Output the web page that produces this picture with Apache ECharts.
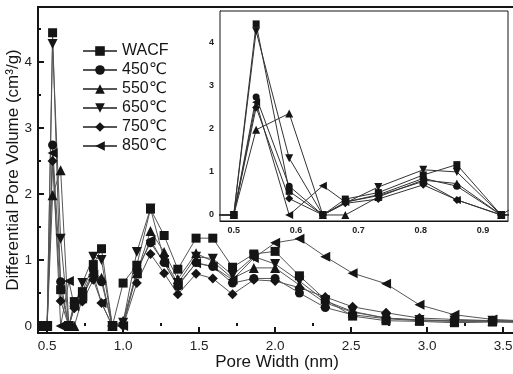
<!DOCTYPE html>
<html><head><meta charset="utf-8">
<script src="https://cdn.jsdelivr.net/npm/echarts@6/dist/echarts.min.js"></script>
<style>html,body{margin:0;padding:0;background:#fff}#c{width:513px;height:374px}</style>
</head><body><div id="c"></div>
<script>
// Pore widths (nm)
const widths = [0.467, 0.5, 0.536, 0.589, 0.643, 0.679, 0.732, 0.804, 0.858, 0.929, 1.0, 1.09, 1.18, 1.27, 1.36, 1.48, 1.59, 1.72, 1.86, 2.0, 2.16, 2.33, 2.51, 2.73, 2.95, 3.18, 3.43, 3.7];
// Differential pore volume (cm3/g)
const wacf  = [0, 0, 4.44, 0.55, 0, 0.37, 0.52, 0.93, 1.17, 0, 0.65, 0.92, 1.77, 1.37, 0.86, 1.33, 1.33, 0.89, 1.09, 1.13, 0.76, 0.40, 0.15, 0.08, 0.07, 0.05, 0.06, 0.05];
const t450  = [0, 0, 2.74, 0.67, 0, 0.30, 0.47, 0.85, 0.67, 0, 0.02, 0.85, 1.26, 0.96, 0.60, 0.96, 0.90, 0.65, 0.72, 0.72, 0.50, 0.28, 0.17, 0.11, 0.08, 0.07, 0.07, 0.06];
const t550  = [0, 0, 1.98, 2.36, 0, 0, 0.42, 0.81, 0.73, 0, 0.08, 0.80, 1.44, 1.12, 0.71, 1.10, 0.98, 0.72, 0.88, 0.88, 0.62, 0.35, 0.21, 0.12, 0.09, 0.08, 0.08, 0.07];
const t650  = [0, 0, 4.27, 1.32, 0, 0.28, 0.65, 1.05, 1.00, 0, 0.05, 1.12, 1.78, 1.00, 0.65, 1.05, 1.02, 0.77, 1.05, 0.94, 0.68, 0.38, 0.22, 0.12, 0.09, 0.08, 0.08, 0.07];
const t750  = [0, 0, 2.50, 0.38, 0, 0.27, 0.37, 0.70, 0.35, 0, 0, 0.65, 1.09, 0.80, 0.48, 0.79, 0.72, 0.48, 0.70, 0.68, 0.58, 0.44, 0.29, 0.20, 0.12, 0.10, 0.08, 0.07];
const t850  = [0, 0, 2.62, 0, 0.68, 0.30, 0.45, 0.78, 0.35, 0, 0, 0.80, 1.30, 0.95, 0.62, 0.95, 0.90, 0.70, 1.03, 1.26, 1.32, 1.05, 0.80, 0.64, 0.32, 0.17, 0.10, 0.07];
const seriesNames = ['WACF', '450℃', '550℃', '650℃', '750℃', '850℃'];
const seriesValues = [wacf, t450, t550, t650, t750, t850];
// Tick labels
const mainXTicks = [0.5, 1.0, 1.5, 2.0, 2.5, 3.0, 3.5];
const mainXMinor = [0.75, 1.25, 1.75, 2.25, 2.75, 3.25];
const mainYTicks = [0, 1, 2, 3, 4];
const mainYMinor = [0.5, 1.5, 2.5, 3.5, 4.5];
const insetXTicks = [0.5, 0.6, 0.7, 0.8, 0.9];
const insetXMinor = [0.55, 0.65, 0.75, 0.85];
const insetYTicks = [0, 1, 2, 3, 4];
const insetYMinor = [0.5, 1.5, 2.5, 3.5, 4.5];

const symbols = ['rect', 'circle', 'triangle', 'path://M0,0 L10,0 L5,10 Z', 'diamond', 'path://M10,0 L10,10 L0,5 Z'];
const mainSizes = [9, 9, 10, 10, 10, 10];
const insetSizes = [7, 7, 8, 8, 8, 8];
const FONT = 'Liberation Sans, Arial, DejaVu Sans, sans-serif';
const ink = '#151515';

function pairs(v) { return widths.map((w, i) => [w, v[i]]); }

const series = [];
seriesNames.forEach((n, k) => {
  series.push({
    name: n, type: 'line', xAxisIndex: 0, yAxisIndex: 0,
    data: pairs(seriesValues[k]), symbol: symbols[k], symbolSize: mainSizes[k],
    showAllSymbol: true, clip: true,
    lineStyle: { color: '#555', width: 1 }, itemStyle: { color: ink, borderWidth: 0 },
    emphasis: { disabled: true }, z: 3
  });
});
seriesNames.forEach((n, k) => {
  series.push({
    name: n, type: 'line', xAxisIndex: 2, yAxisIndex: 2,
    data: pairs(seriesValues[k]), symbol: symbols[k], symbolSize: insetSizes[k],
    showAllSymbol: true, clip: true,
    lineStyle: { color: '#333', width: 1 }, itemStyle: { color: ink, borderWidth: 0 },
    emphasis: { disabled: true }, z: 5
  });
});

const mainGrid = { left: 38, top: 7, right: -3, bottom: 41, show: true, borderColor: ink, borderWidth: 2, backgroundColor: 'transparent', outerBoundsMode: 'none', containLabel: false };
const insetGrid = { left: 220, top: 11, right: 5, bottom: 153, show: true, borderColor: ink, borderWidth: 1, backgroundColor: '#fff', z: 4, outerBoundsMode: 'none', containLabel: false };

const X0 = 0.44, X1 = 3.585, Y0 = -0.106, Y1 = 4.83;
const IX0 = 0.478, IX1 = 0.94, IY0 = -0.14, IY1 = 4.74;

const option = {
  animation: false,
  backgroundColor: '#fff',
  textStyle: { fontFamily: FONT },
  legend: {
    data: seriesNames, orient: 'vertical', left: 82, top: 43, padding: 0,
    itemWidth: 34, itemHeight: 12, itemGap: 3,
    textStyle: { fontSize: 16, lineHeight: 16, color: ink, fontFamily: FONT },
    selectedMode: false
  },
  grid: [mainGrid, Object.assign({}, mainGrid, { show: false }), insetGrid],
  xAxis: [
    { type: 'value', gridIndex: 0, min: X0, max: X1, position: 'bottom',
      name: 'Pore Width (nm)', nameLocation: 'middle', nameGap: 21, nameMoveOverlap: false,
      nameTextStyle: { fontSize: 17, color: ink, fontFamily: FONT },
      axisLine: { onZero: false, lineStyle: { color: ink, width: 2 } },
      axisTick: { inside: true, length: 6, customValues: mainXTicks, lineStyle: { color: ink, width: 2 } },
      axisLabel: { customValues: mainXTicks, fontSize: 13.5, color: '#222', margin: 6, formatter: v => v.toFixed(1) },
      splitLine: { show: false } },
    { type: 'value', gridIndex: 1, min: X0, max: X1, position: 'bottom',
      axisLine: { show: false },
      axisTick: { inside: true, length: 3, customValues: mainXMinor, lineStyle: { color: ink, width: 2 } },
      axisLabel: { show: false }, splitLine: { show: false } },
    { type: 'value', gridIndex: 2, min: IX0, max: IX1, position: 'bottom',
      axisLine: { onZero: false, lineStyle: { color: ink, width: 1 } },
      axisTick: { inside: true, length: 4, customValues: insetXTicks.concat(insetXMinor), lineStyle: { color: ink, width: 1 } },
      axisLabel: { customValues: insetXTicks, fontSize: 9, fontWeight: 'bold', color: '#222', margin: 5, formatter: v => v.toFixed(1) },
      splitLine: { show: false } }
  ],
  yAxis: [
    { type: 'value', gridIndex: 0, min: Y0, max: Y1,
      name: 'Differential Pore Volume (cm³/g)', nameLocation: 'middle', nameGap: 16, nameMoveOverlap: false,
      nameTextStyle: { fontSize: 17, color: ink, fontFamily: FONT },
      axisLine: { onZero: false, lineStyle: { color: ink, width: 2 } },
      axisTick: { inside: true, length: 6, customValues: mainYTicks, lineStyle: { color: ink, width: 2 } },
      axisLabel: { customValues: mainYTicks, fontSize: 13.5, color: '#222', margin: 6 },
      splitLine: { show: false } },
    { type: 'value', gridIndex: 1, min: Y0, max: Y1,
      axisLine: { show: false },
      axisTick: { inside: true, length: 3, customValues: mainYMinor, lineStyle: { color: ink, width: 2 } },
      axisLabel: { show: false }, splitLine: { show: false } },
    { type: 'value', gridIndex: 2, min: IY0, max: IY1,
      axisLine: { onZero: false, lineStyle: { color: ink, width: 1 } },
      axisTick: { inside: true, length: 4, customValues: insetYTicks.concat(insetYMinor), lineStyle: { color: ink, width: 1 } },
      axisLabel: { customValues: insetYTicks, fontSize: 9, fontWeight: 'bold', color: '#222', margin: 6 },
      splitLine: { show: false } }
  ],
  series: series
};

const chart = echarts.init(document.getElementById('c'), null, { renderer: 'canvas' });
chart.setOption(option);
</script>
</body></html>
